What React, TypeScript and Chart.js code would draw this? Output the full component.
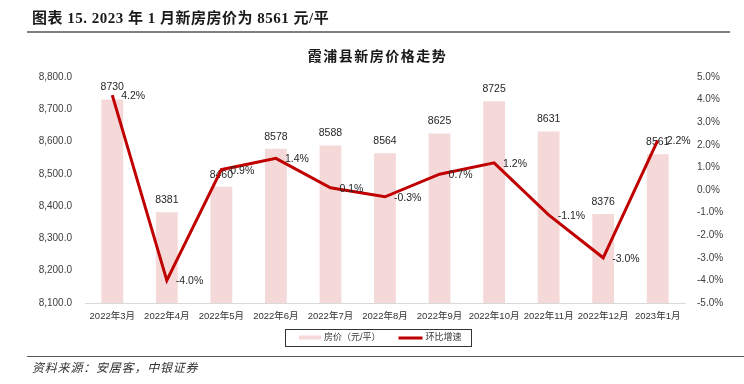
import React, { useEffect, useRef } from "react";
import { Chart, registerables } from "chart.js";

Chart.register(...registerables);

const categories = [
  "2022年3月",
  "2022年4月",
  "2022年5月",
  "2022年6月",
  "2022年7月",
  "2022年8月",
  "2022年9月",
  "2022年10月",
  "2022年11月",
  "2022年12月",
  "2023年1月",
];
const housePrice = [8730, 8381, 8460, 8578, 8588, 8564, 8625, 8725, 8631, 8376, 8561];
const momGrowth = [4.2, -4.0, 0.9, 1.4, 0.1, -0.3, 0.7, 1.2, -1.1, -3.0, 2.2];

const priceAxisMin = 8100;
const priceAxisMax = 8800;
const priceAxisStep = 100;
const growthAxisMin = -5;
const growthAxisMax = 5;
const growthAxisStep = 1;

const seriesNames = ["房价（元/平）", "环比增速"];

const BAR_COLOR = "#F5D9D9";
const LINE_COLOR = "#C00000";
const SANS = '"Liberation Sans", "Noto Sans CJK SC", sans-serif';

export default function App() {
  const ref = useRef<HTMLCanvasElement>(null);

  useEffect(() => {
    const canvas = ref.current;
    if (!canvas) return;

    const labelPlugin = {
      id: "valueLabels",
      afterDatasetDraw(chart: any, args: any) {
        const ctx = chart.ctx;
        ctx.save();
        ctx.font = `10.5px ${SANS}`;
        ctx.fillStyle = "#262626";
        ctx.textBaseline = "middle";
        if (args.index === 0) {
          ctx.textAlign = "center";
          args.meta.data.forEach((el: any, i: number) => {
            ctx.fillText(String(housePrice[i]), el.x, el.y - 12);
          });
        } else if (args.index === 1) {
          ctx.textAlign = "left";
          args.meta.data.forEach((el: any, i: number) => {
            ctx.fillText(momGrowth[i].toFixed(1) + "%", el.x + 9, el.y + 1);
          });
        }
        ctx.restore();
      },
      afterDraw(chart: any) {
        // legend box built from the datasets' labels and colours
        const ctx = chart.ctx;
        const ds = chart.data.datasets;
        ctx.save();
        ctx.font = `9px ${SANS}`;
        const w1 = ctx.measureText(ds[0].label).width;
        const w2 = ctx.measureText(ds[1].label).width;
        const total = 14 + 22 + 3 + w1 + 18 + 24 + 3 + w2 + 9;
        const top = chart.chartArea.bottom + 26;
        const h = 17;
        let x = Math.round(chart.width / 2 + 6 - total / 2);
        ctx.strokeStyle = "#333333";
        ctx.lineWidth = 1;
        ctx.strokeRect(x + 0.5, top + 0.5, Math.round(total), h);
        const mid = top + h / 2 + 0.5;
        x += 14;
        ctx.fillStyle = ds[0].backgroundColor;
        ctx.fillRect(x, mid - 2.5, 22, 4);
        x += 25;
        ctx.fillStyle = "#333333";
        ctx.textBaseline = "middle";
        ctx.textAlign = "left";
        ctx.fillText(ds[0].label, x, mid);
        x += w1 + 18;
        ctx.fillStyle = ds[1].borderColor;
        ctx.fillRect(x, mid - 1.5, 24, 3);
        x += 27;
        ctx.fillStyle = "#333333";
        ctx.fillText(ds[1].label, x, mid);
        ctx.restore();
      },
    };

    const chart = new Chart(canvas, {
      type: "bar",
      data: {
        labels: categories,
        datasets: [
          {
            type: "bar",
            label: seriesNames[0],
            data: housePrice,
            backgroundColor: BAR_COLOR,
            borderWidth: 0,
            categoryPercentage: 1,
            barPercentage: 0.4,
            yAxisID: "y",
            order: 1,
          } as any,
          {
            type: "line",
            label: seriesNames[1],
            data: momGrowth,
            borderColor: LINE_COLOR,
            backgroundColor: LINE_COLOR,
            borderWidth: 3,
            pointRadius: 0,
            tension: 0,
            yAxisID: "y1",
            order: 0,
          } as any,
        ],
      },
      options: {
        responsive: false,
        animation: false,
        devicePixelRatio: 1,
        layout: { padding: { top: 77, left: 0, right: 0, bottom: 57 } },
        plugins: {
          tooltip: { enabled: false },
          title: { display: false },
          legend: { display: false },
        },
        scales: {
          x: {
            offset: true,
            grid: { display: false, drawTicks: false },
            border: { display: true, color: "#D9D9D9", width: 1 },
            ticks: {
              color: "#333333",
              padding: 8,
              maxRotation: 0,
              autoSkip: false,
              font: { size: 9.5, family: SANS },
            },
            afterFit: (s: any) => {
              s.height = 24;
            },
          },
          y: {
            position: "left",
            min: priceAxisMin,
            max: priceAxisMax,
            grid: { display: false, drawTicks: false },
            border: { display: false },
            ticks: {
              stepSize: priceAxisStep,
              color: "#404040",
              padding: 13,
              font: { size: 10, family: SANS },
              callback: (v: any) =>
                Number(v).toLocaleString("en-US", { minimumFractionDigits: 1, maximumFractionDigits: 1 }),
            },
            afterFit: (s: any) => {
              s.width = 85;
            },
          },
          y1: {
            position: "right",
            min: growthAxisMin,
            max: growthAxisMax,
            grid: { display: false, drawTicks: false },
            border: { display: false },
            ticks: {
              stepSize: growthAxisStep,
              color: "#404040",
              padding: 12,
              font: { size: 10, family: SANS },
              callback: (v: any) => Number(v).toFixed(1) + "%",
            },
            afterFit: (s: any) => {
              s.width = 59;
            },
          },
        },
      } as any,
      plugins: [labelPlugin],
    });

    return () => chart.destroy();
  }, []);

  return (
    <div
      style={{
        position: "absolute",
        left: 0,
        top: 0,
        width: 744,
        height: 384,
        background: "#ffffff",
        overflow: "hidden",
      }}
    >
      <canvas
        ref={ref}
        width={744}
        height={384}
        style={{ position: "absolute", left: 0, top: 0, width: 744, height: 384 }}
      />
      <div
        style={{
          position: "absolute",
          left: 32,
          top: 9,
          fontFamily: '"Liberation Serif", "Noto Sans CJK SC", serif',
          fontWeight: "bold",
          fontSize: 15,
          lineHeight: "18px",
          letterSpacing: 0.5,
          color: "#1a1a1a",
          whiteSpace: "nowrap",
        }}
      >
        图表 15. 2023 年 1 月新房房价为 8561 元/平
      </div>
      <div
        style={{ position: "absolute", left: 27, top: 31, width: 703, height: 2, background: "#808080" }}
      />
      <div
        style={{
          position: "absolute",
          left: 0,
          top: 46,
          width: 755,
          textAlign: "center",
          fontFamily: '"Noto Sans CJK SC", sans-serif',
          fontWeight: "bold",
          fontSize: 14,
          lineHeight: "18px",
          letterSpacing: 1.5,
          color: "#1a1a1a",
          whiteSpace: "nowrap",
        }}
      >
        霞浦县新房价格走势
      </div>
      <div
        style={{ position: "absolute", left: 27, top: 356, width: 717, height: 1, background: "#555555" }}
      />
      <div
        style={{
          position: "absolute",
          left: 32,
          top: 359,
          fontFamily: '"Noto Sans CJK SC", sans-serif',
          fontStyle: "italic",
          fontSize: 12,
          lineHeight: "15px",
          letterSpacing: 0.8,
          color: "#333333",
          whiteSpace: "nowrap",
        }}
      >
        资料来源：安居客，中银证券
      </div>
    </div>
  );
}
